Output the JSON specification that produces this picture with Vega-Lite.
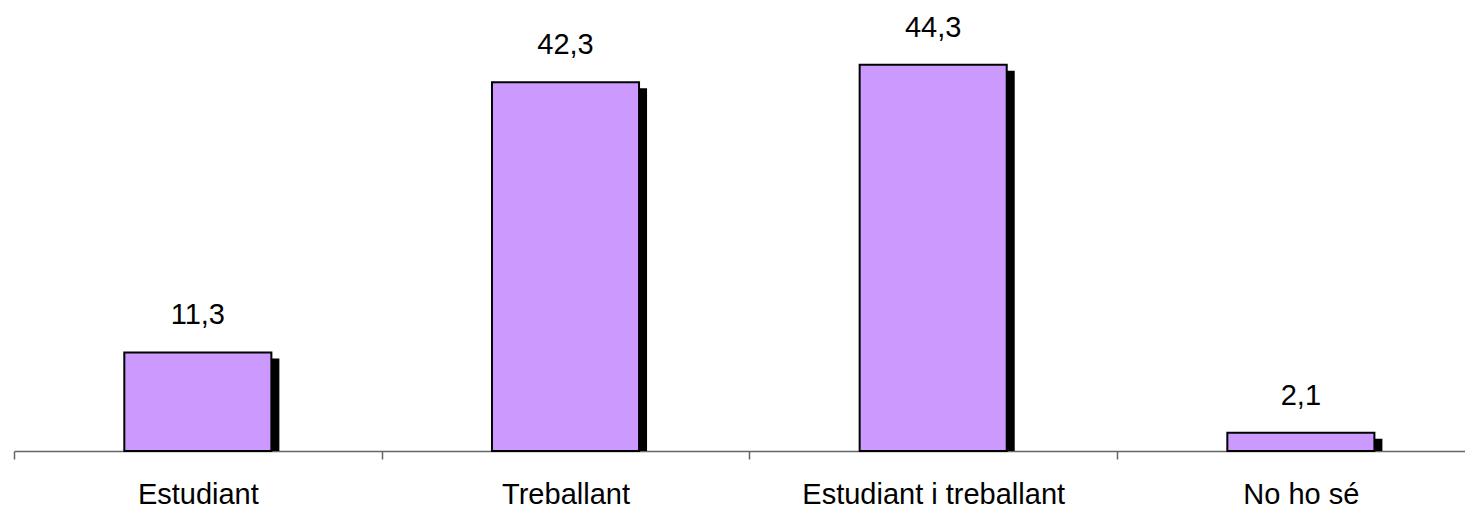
{
  "$schema": "https://vega.github.io/schema/vega-lite/v6.json",
  "width": 1451,
  "height": 436,
  "autosize": {"type": "none"},
  "padding": {"left": 14, "top": 15, "right": 0, "bottom": 58},
  "background": "white",
  "config": {
    "view": {"stroke": null},
    "font": "Liberation Sans",
    "locale": {"number": {"decimal": ",", "thousands": ".", "grouping": [3], "currency": ["", " €"]}}
  },
  "data": {
    "values": [
      {"categoria": "Estudiant", "valor": 11.3},
      {"categoria": "Treballant", "valor": 42.3},
      {"categoria": "Estudiant i treballant", "valor": 44.3},
      {"categoria": "No ho sé", "valor": 2.1}
    ]
  },
  "encoding": {
    "x": {
      "field": "categoria",
      "type": "nominal",
      "sort": null,
      "title": null,
      "scale": {"range": [0, 1470.7], "paddingInner": 0, "paddingOuter": 0},
      "axis": {
        "labelAngle": 0,
        "labelFont": "Liberation Sans",
        "labelFontSize": 29,
        "labelColor": "black",
        "labelBaseline": "alphabetic",
        "labelPadding": 44,
        "labelLimit": 0,
        "tickBand": "extent",
        "tickSize": 8,
        "tickColor": "#666666",
        "tickWidth": 1.5,
        "domainColor": "#666666",
        "domainWidth": 1.5,
        "grid": false
      }
    },
    "y": {
      "field": "valor",
      "type": "quantitative",
      "scale": {"domain": [0, 50]},
      "axis": null
    }
  },
  "layer": [
    {
      "mark": {"type": "bar", "color": "black", "width": {"band": 0.4}, "xOffset": 8, "yOffset": 6, "clip": true}
    },
    {
      "mark": {"type": "bar", "color": "#CC99FF", "stroke": "black", "strokeWidth": 2, "width": {"band": 0.4}}
    },
    {
      "mark": {"type": "text", "baseline": "alphabetic", "dy": -28, "fontSize": 29, "font": "Liberation Sans", "color": "black"},
      "encoding": {"text": {"field": "valor", "type": "quantitative", "format": ".1f"}}
    }
  ]
}
